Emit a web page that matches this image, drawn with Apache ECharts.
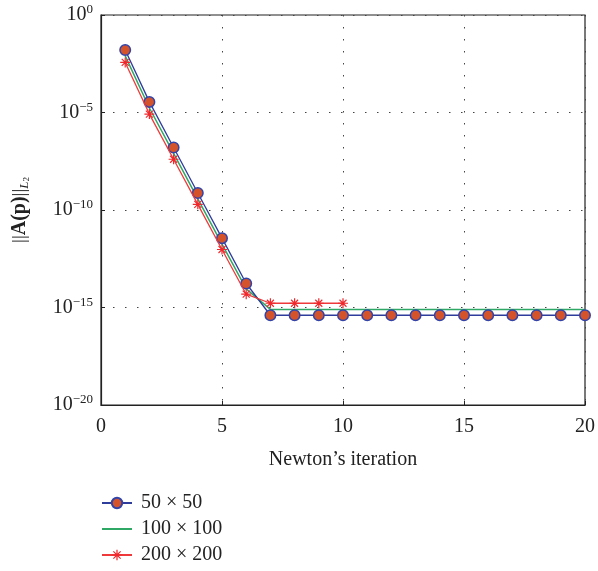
<!DOCTYPE html>
<html><head><meta charset="utf-8">
<script src="https://cdn.jsdelivr.net/npm/echarts@6/dist/echarts.min.js"></script>
<style>html,body{margin:0;padding:0;background:#fff}#c{width:598px;height:571px}</style>
</head><body><div id="c"></div>
<script>
var iterations = [1,2,3,4,5,6,7,8,9,10,11,12,13,14,15,16,17,18,19,20];
var s50 = [1.6e-2,3.5e-5,1.6e-7,7.4e-10,3.6e-12,1.7e-14,4e-16,4e-16,4e-16,4e-16,4e-16,4e-16,4e-16,4e-16,4e-16,4e-16,4e-16,4e-16,4e-16,4e-16];
var s100 = [8e-3,1.7e-5,8e-8,3.7e-10,1.8e-12,9e-15,8e-16,8e-16,8e-16,8e-16,8e-16,8e-16,8e-16,8e-16,8e-16,8e-16,8e-16,8e-16,8e-16,8e-16];
var s200 = [3.7e-3,8.3e-6,4e-8,1.95e-10,9.4e-13,4.8e-15,1.65e-15,1.65e-15,1.65e-15,1.65e-15];
var seriesNames = ['50 \u00d7 50','100 \u00d7 100','200 \u00d7 200'];
var xTicks = [0,5,10,15,20];

function pairs(v){ return v.map(function(y,i){ return [iterations[i], y]; }); }
var FONT = '"Liberation Serif", "DejaVu Serif", serif';
var star = 'path://M-0.6,-5L0.6,-5L0.6,5L-0.6,5Z M-5,-0.6L5,-0.6L5,0.6L-5,0.6Z M-3.9,-3.1L-3.1,-3.9L3.9,3.1L3.1,3.9Z M3.1,-3.9L3.9,-3.1L-3.1,3.9L-3.9,3.1Z';

var chart = echarts.init(document.getElementById('c'));
chart.setOption({
  animation:false,
  backgroundColor:'#fff',
  textStyle:{fontFamily:FONT},
  grid:{left:101,right:12,top:15,bottom:166,show:true,borderColor:'#222',borderWidth:1.2,backgroundColor:'transparent'},
  xAxis:{type:'value',min:0,max:20,interval:5,
    name:"Newton\u2019s iteration",nameLocation:'middle',nameGap:45,
    nameTextStyle:{fontFamily:FONT,fontSize:20,color:'#222'},
    axisLine:{lineStyle:{color:'#222',width:1.2}},
    axisTick:{inside:true,length:4,lineStyle:{color:'#222'}},
    axisLabel:{fontFamily:FONT,fontSize:20,color:'#222',margin:12,
      formatter:function(v){ return xTicks.indexOf(v)>=0 ? String(v) : ''; }},
    splitLine:{show:true,lineStyle:{color:'#444',type:[1.5,10.5],width:1}}
  },
  yAxis:{type:'log',logBase:10,min:1e-20,max:1,interval:5,
    name:'{n|||}{b|A(p)}{n|||}{sub|L}{sub2|2}',nameLocation:'middle',nameGap:70,
    nameTextStyle:{fontFamily:FONT,color:'#222',
      rich:{n:{fontFamily:FONT,fontSize:19,color:'#222'},
            b:{fontFamily:FONT,fontSize:20,fontWeight:'bold',color:'#222'},
            sub:{fontFamily:FONT,fontSize:13,fontStyle:'italic',color:'#222',verticalAlign:'bottom',padding:[9,0,0,0]},
            sub2:{fontFamily:FONT,fontSize:9,color:'#222',verticalAlign:'bottom',padding:[13,0,0,0]}}},
    axisLine:{show:true,lineStyle:{color:'#222',width:1.2}},
    axisTick:{show:true,inside:true,length:4,lineStyle:{color:'#222'}},
    minorTick:{show:false},
    axisLabel:{fontFamily:FONT,color:'#222',margin:8,
      formatter:function(v){ var e=Math.round(Math.log10(v)); return '{b|10}{s|'+(e<0?'\u2212'+(-e):e)+'}'; },
      rich:{b:{fontFamily:FONT,fontSize:20,color:'#222'},
            s:{fontFamily:FONT,fontSize:13,color:'#222',verticalAlign:'top',padding:[0,0,10,0]}}},
    splitLine:{show:true,lineStyle:{color:'#444',type:[1.5,10.5],width:1}}
  },
  legend:{orient:'vertical',left:101,top:493,padding:0,itemWidth:30,itemHeight:13,itemGap:6,
    textStyle:{fontFamily:FONT,fontSize:20,color:'#222',padding:[0,0,0,4]},
    data:[{name:seriesNames[0]},
          {name:seriesNames[1],itemStyle:{color:'rgba(0,0,0,0)',borderWidth:0,opacity:0}},
          {name:seriesNames[2]}]},
  series:[
    {name:seriesNames[0],type:'line',data:pairs(s50),symbol:'circle',symbolSize:10.5,
      lineStyle:{color:'#2e3c9c',width:1.3},itemStyle:{color:'#d4532a',borderColor:'#3344a8',borderWidth:1.5},z:3},
    {name:seriesNames[1],type:'line',data:pairs(s100),symbol:'none',showSymbol:false,
      lineStyle:{color:'#2fa865',width:1.5},itemStyle:{color:'#2fa865'},z:2},
    {name:seriesNames[2],type:'line',data:pairs(s200),symbol:star,symbolSize:10,
      lineStyle:{color:'#ee3a3a',width:1.3},itemStyle:{color:'#f0282c'},z:4}
  ]
});
</script></body></html>
